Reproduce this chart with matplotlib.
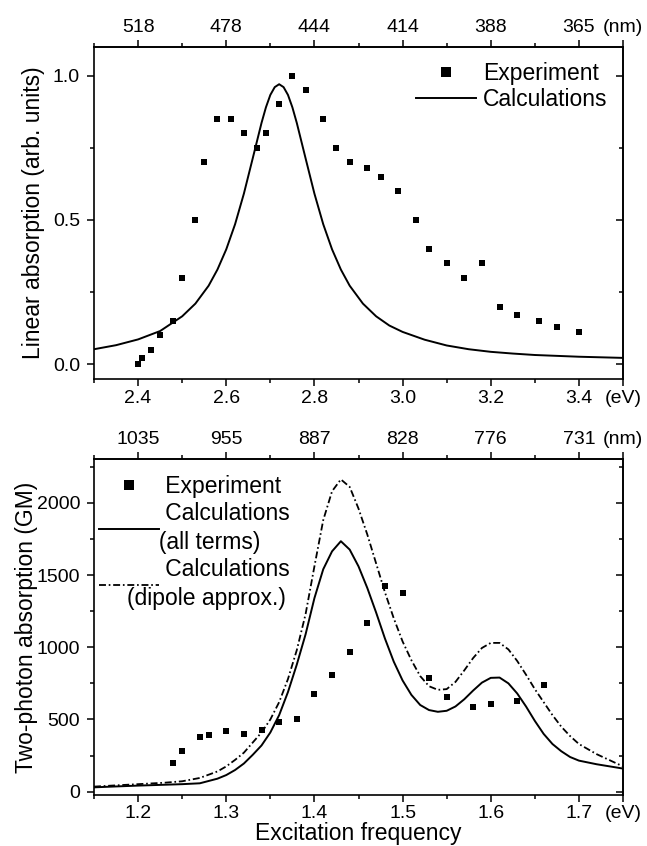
import matplotlib
matplotlib.use("Agg")
import matplotlib.pyplot as plt
from matplotlib.ticker import FixedLocator

plt.rcParams['font.family'] = ['Liberation Sans', 'DejaVu Sans']
plt.rcParams['lines.scale_dashes'] = False

# ---- top panel: linear absorption ----
lin_exp_ev = [2.40, 2.41, 2.43, 2.45, 2.48, 2.50, 2.53, 2.55, 2.58, 2.61, 2.64,
              2.67, 2.69, 2.72, 2.75, 2.78, 2.82, 2.85, 2.88, 2.92, 2.95, 2.99,
              3.03, 3.06, 3.10, 3.14, 3.18, 3.22, 3.26, 3.31, 3.35, 3.40]
lin_exp_abs = [0.00, 0.02, 0.05, 0.10, 0.15, 0.30, 0.50, 0.70, 0.85, 0.85, 0.80,
               0.75, 0.80, 0.90, 1.00, 0.95, 0.85, 0.75, 0.70, 0.68, 0.65, 0.60,
               0.50, 0.40, 0.35, 0.30, 0.35, 0.20, 0.17, 0.15, 0.13, 0.11]

lin_calc_ev = [2.30, 2.35, 2.40, 2.45, 2.50, 2.53, 2.56, 2.58, 2.60, 2.62, 2.64,
               2.66, 2.68, 2.69, 2.70, 2.71, 2.72, 2.73, 2.74, 2.75, 2.76, 2.78,
               2.80, 2.82, 2.84, 2.86, 2.88, 2.91, 2.94, 2.97, 3.00, 3.05, 3.10,
               3.15, 3.20, 3.25, 3.30, 3.35, 3.40, 3.45, 3.50]
lin_calc_abs = [0.052, 0.066, 0.086, 0.115, 0.166, 0.210, 0.272, 0.328, 0.398,
                0.485, 0.591, 0.713, 0.836, 0.890, 0.933, 0.960, 0.970, 0.960,
                0.933, 0.890, 0.836, 0.713, 0.591, 0.485, 0.398, 0.328, 0.272,
                0.210, 0.166, 0.134, 0.112, 0.085, 0.065, 0.052, 0.043, 0.037,
                0.032, 0.029, 0.026, 0.024, 0.022]

top_ev_ticks = [2.4, 2.6, 2.8, 3.0, 3.2, 3.4, 3.5]
top_ev_labels = ['2.4', '2.6', '2.8', '3.0', '3.2', '3.4', '(eV)']
top_nm_labels = ['518', '478', '444', '414', '388', '365', '(nm)']
top_minor = [2.3, 2.5, 2.7, 2.9, 3.1, 3.3]

# ---- bottom panel: two-photon absorption ----
tpa_exp_ev = [1.24, 1.25, 1.27, 1.28, 1.30, 1.32, 1.34, 1.36, 1.38, 1.40, 1.42,
              1.44, 1.46, 1.48, 1.50, 1.53, 1.55, 1.58, 1.60, 1.63, 1.66]
tpa_exp_gm = [200, 280, 380, 393, 423, 402, 425, 480, 504, 677, 805,
              965, 1168, 1424, 1376, 785, 657, 587, 610, 629, 740]

tpa_calc_ev = [1.15, 1.17, 1.20, 1.23, 1.25, 1.27, 1.29, 1.30, 1.31, 1.32, 1.33,
               1.34, 1.35, 1.36, 1.37, 1.38, 1.39, 1.40, 1.41, 1.42, 1.43, 1.44,
               1.45, 1.46, 1.47, 1.48, 1.49, 1.50, 1.51, 1.52, 1.53, 1.54, 1.55,
               1.56, 1.57, 1.58, 1.59, 1.60, 1.61, 1.62, 1.63, 1.64, 1.65, 1.66,
               1.67, 1.68, 1.69, 1.70, 1.72, 1.75]
tpa_all_terms = [30, 35, 42, 48, 52, 58, 90, 115, 150, 195, 255,
                 320, 410, 530, 690, 880, 1090, 1340, 1540, 1664, 1734, 1676,
                 1560, 1410, 1240, 1060, 900, 770, 670, 600, 565, 553, 560,
                 590, 640, 700, 755, 788, 790, 750, 680, 590, 490, 400,
                 330, 280, 240, 215, 190, 160]
tpa_dipole = [35, 42, 52, 62, 72, 95, 140, 175, 220, 270, 340,
              410, 500, 620, 780, 980, 1230, 1560, 1880, 2080, 2162, 2110,
              1960, 1780, 1580, 1380, 1200, 1040, 910, 800, 730, 705, 710,
              760, 840, 925, 995, 1030, 1030, 985, 905, 810, 710, 620,
              530, 450, 385, 330, 260, 175]

bot_ev_ticks = [1.2, 1.3, 1.4, 1.5, 1.6, 1.7, 1.75]
bot_ev_labels = ['1.2', '1.3', '1.4', '1.5', '1.6', '1.7', '(eV)']
bot_nm_labels = ['1035', '955', '887', '828', '776', '731', '(nm)']
bot_minor = [1.15, 1.25, 1.35, 1.45, 1.55, 1.65]

TICK_FS = 14
LABEL_FS = 16.5


def style_axes(ax, xticks, xlabels, xminor, nm_labels, yticks, ylabels, yminor):
    for s in ax.spines.values():
        s.set_linewidth(1.2)
    ax.set_xticks(xticks, labels=xlabels)
    ax.xaxis.set_minor_locator(FixedLocator(xminor))
    ax.set_yticks(yticks, labels=ylabels)
    ax.yaxis.set_minor_locator(FixedLocator(yminor))
    ax.tick_params(which='both', direction='out', width=1.1, labelsize=TICK_FS,
                   top=False, right=False)
    ax.tick_params(which='major', length=5, pad=5)
    ax.tick_params(axis='x', which='major', pad=3.5)
    ax.tick_params(which='minor', length=3)

    top = ax.secondary_xaxis('top')
    top.set_xticks(xticks, labels=nm_labels)
    top.xaxis.set_minor_locator(FixedLocator(xminor))
    top.tick_params(which='both', direction='out', width=1.1, labelsize=TICK_FS)
    top.tick_params(which='major', length=5, pad=3)
    top.tick_params(which='minor', length=3)
    top.spines['top'].set_linewidth(1.2)

    right = ax.secondary_yaxis('right')
    right.set_yticks(yticks, labels=[''] * len(yticks))
    right.yaxis.set_minor_locator(FixedLocator(yminor))
    right.tick_params(which='both', direction='in', width=1.1)
    right.tick_params(which='major', length=5)
    right.tick_params(which='minor', length=3)
    right.spines['right'].set_linewidth(1.2)


fig = plt.figure(figsize=(6.47, 8.46), dpi=100)
ax1 = fig.add_axes([0.1453, 0.5524, 0.8176, 0.3924])
ax2 = fig.add_axes([0.1453, 0.0608, 0.8176, 0.3961])

# top panel
ax1.plot(lin_exp_ev, lin_exp_abs, 's', color='k', ms=5, mew=0, label='Experiment')
ax1.plot(lin_calc_ev, lin_calc_abs, '-', color='k', lw=1.4, label='Calculations')
ax1.set_xlim(2.3, 3.5)
ax1.set_ylim(-0.05, 1.1)
style_axes(ax1, top_ev_ticks, top_ev_labels, top_minor, top_nm_labels,
           [0.0, 0.5, 1.0], ['0.0', '0.5', '1.0'], [0.25, 0.75])
ax1.set_ylabel('Linear absorption (arb. units)', fontsize=LABEL_FS, labelpad=6)
leg1 = ax1.legend(loc='upper right', bbox_to_anchor=(0.97, 0.955), frameon=False,
                  fontsize=LABEL_FS, handlelength=2.6, handletextpad=0.3,
                  labelspacing=0.15, markerscale=1.35, borderpad=0, borderaxespad=0)

# bottom panel (leading spaces reproduce the original legend's text offsets)
ax2.plot(tpa_exp_ev, tpa_exp_gm, 's', color='k', ms=5, mew=0,
         label='      Experiment')
ax2.plot(tpa_calc_ev, tpa_all_terms, '-', color='k', lw=1.4,
         label='      Calculations\n     (all terms)')
ax2.plot(tpa_calc_ev, tpa_dipole, color='k', lw=1.3,
         linestyle=(0, (5, 2, 1.2, 2)),
         label='      Calculations\n(dipole approx.)')
ax2.set_xlim(1.15, 1.75)
ax2.set_ylim(-20, 2300)
style_axes(ax2, bot_ev_ticks, bot_ev_labels, bot_minor, bot_nm_labels,
           [0, 500, 1000, 1500, 2000], ['0', '500', '1000', '1500', '2000'],
           [250, 750, 1250, 1750, 2250])
ax2.tick_params(axis='x', which='major', pad=2.5)
ax2.set_ylabel('Two-photon absorption (GM)', fontsize=LABEL_FS, labelpad=-1)
ax2.set_xlabel('Excitation frequency', fontsize=LABEL_FS, labelpad=0)
leg2 = ax2.legend(loc='upper left', bbox_to_anchor=(0.01, 0.955), frameon=False,
                  fontsize=LABEL_FS, handlelength=2.6, handletextpad=-1.38,
                  labelspacing=0.2, markerscale=1.35, borderpad=0, borderaxespad=0)
for t in leg2.get_texts():
    t.set_linespacing(1.3)

fig.savefig('out.png', dpi=100)
